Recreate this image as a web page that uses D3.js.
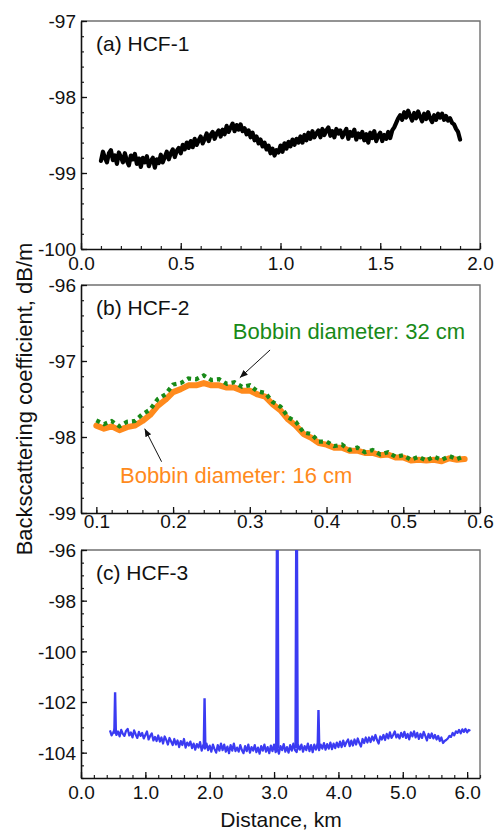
<!DOCTYPE html>
<html><head><meta charset="utf-8">
<script src="https://cdn.jsdelivr.net/npm/d3@7"></script>
<style>
body{margin:0;background:#fff;}
svg{display:block;font-family:"Liberation Sans",Arial,sans-serif;}
</style></head>
<body><svg id="c" width="497" height="830"></svg>
<script>
// ---------------- DATA ----------------
// Panel (a) HCF-1: distance 0.10..1.90 km, step 0.01
const distA = d3.range(0, 181).map(i => +(0.10 + i * 0.01).toFixed(2));
const valA = [
-98.84,-98.72,-98.80,-98.86,-98.74,-98.70,-98.83,-98.77,-98.88,-98.73,
-98.79,-98.86,-98.74,-98.84,-98.90,-98.77,-98.82,-98.75,-98.88,-98.81,
-98.92,-98.80,-98.86,-98.78,-98.91,-98.84,-98.80,-98.93,-98.82,-98.87,
-98.76,-98.86,-98.79,-98.72,-98.82,-98.74,-98.69,-98.79,-98.71,-98.67,
-98.74,-98.63,-98.69,-98.60,-98.67,-98.58,-98.66,-98.55,-98.63,-98.57,
-98.52,-98.61,-98.55,-98.48,-98.58,-98.50,-98.46,-98.55,-98.48,-98.44,
-98.52,-98.43,-98.49,-98.38,-98.46,-98.40,-98.35,-98.45,-98.37,-98.43,
-98.36,-98.45,-98.41,-98.49,-98.44,-98.53,-98.47,-98.57,-98.52,-98.61,
-98.56,-98.65,-98.60,-98.69,-98.64,-98.74,-98.68,-98.77,-98.70,-98.73,
-98.64,-98.72,-98.61,-98.68,-98.59,-98.65,-98.56,-98.63,-98.55,-98.60,
-98.52,-98.60,-98.50,-98.57,-98.47,-98.55,-98.45,-98.53,-98.48,-98.44,
-98.53,-98.42,-98.50,-98.44,-98.40,-98.51,-98.45,-98.53,-98.42,-98.48,
-98.44,-98.53,-98.47,-98.42,-98.55,-98.46,-98.51,-98.43,-98.56,-98.48,
-98.53,-98.46,-98.57,-98.49,-98.60,-98.47,-98.54,-98.45,-98.58,-98.51,
-98.47,-98.58,-98.50,-98.55,-98.46,-98.54,-98.44,-98.40,-98.34,-98.28,
-98.24,-98.30,-98.20,-98.27,-98.18,-98.25,-98.31,-98.21,-98.28,-98.19,
-98.26,-98.32,-98.22,-98.29,-98.20,-98.28,-98.33,-98.24,-98.30,-98.22,
-98.27,-98.22,-98.30,-98.25,-98.31,-98.28,-98.34,-98.36,-98.42,-98.46,
-98.56];

// Panel (b) HCF-2: distance 0.10..0.58 km, step 0.01
const distB = d3.range(0, 49).map(i => +(0.10 + i * 0.01).toFixed(2));
const valB16 = [
-97.85,-97.89,-97.86,-97.91,-97.87,-97.85,-97.79,-97.71,-97.59,-97.51,
-97.41,-97.37,-97.32,-97.32,-97.29,-97.32,-97.32,-97.35,-97.35,-97.39,
-97.39,-97.44,-97.47,-97.57,-97.65,-97.77,-97.85,-97.96,-98.01,-98.08,
-98.10,-98.14,-98.14,-98.18,-98.18,-98.21,-98.21,-98.24,-98.23,-98.27,
-98.27,-98.31,-98.30,-98.31,-98.30,-98.32,-98.28,-98.30,-98.29];
const valB32 = [
-97.78,-97.83,-97.79,-97.86,-97.80,-97.79,-97.70,-97.64,-97.50,-97.44,
-97.31,-97.29,-97.23,-97.24,-97.19,-97.25,-97.24,-97.30,-97.28,-97.34,
-97.32,-97.40,-97.42,-97.54,-97.60,-97.74,-97.80,-97.94,-97.96,-98.06,
-98.06,-98.12,-98.10,-98.17,-98.14,-98.20,-98.17,-98.23,-98.20,-98.26,
-98.24,-98.30,-98.26,-98.31,-98.26,-98.30,-98.25,-98.29,-98.25];

// Panel (c) HCF-3: distance 0.45..6.05 km, step 0.025
const distC = d3.range(0, 225).map(i => +(0.45 + i * 0.025).toFixed(3));
const valC = [
-103.12,-103.32,-103.20,-103.06,-103.30,-103.16,-103.36,-103.10,-103.26,-103.34,
-103.14,-103.06,-103.32,-103.20,-103.40,-103.12,-103.28,-103.42,-103.18,-103.34,
-103.22,-103.44,-103.30,-103.16,-103.48,-103.34,-103.24,-103.52,-103.38,-103.54,
-103.32,-103.56,-103.40,-103.64,-103.36,-103.50,-103.68,-103.42,-103.56,-103.70,
-103.46,-103.68,-103.52,-103.78,-103.54,-103.70,-103.46,-103.80,-103.60,-103.72,
-103.56,-103.82,-103.64,-103.88,-103.66,-103.80,-103.58,-103.92,-103.70,-103.84,
-103.64,-103.90,-103.72,-103.96,-103.68,-103.86,-104.00,-103.70,-103.92,-103.64,
-103.90,-103.68,-103.96,-103.76,-104.02,-103.70,-103.92,-103.64,-103.94,-103.80,
-103.96,-103.70,-103.90,-104.02,-103.74,-103.94,-103.68,-104.00,-103.78,-103.92,
-103.70,-103.98,-103.80,-104.04,-103.74,-103.92,-103.68,-103.96,-103.78,-104.02,
-103.72,-103.94,-103.68,-103.98,-103.80,-104.04,-103.74,-103.90,-103.66,-103.96,
-103.78,-104.00,-103.70,-103.92,-103.64,-103.90,-103.98,-103.70,-103.88,-103.68,
-103.96,-103.74,-103.90,-103.64,-103.94,-103.70,-103.98,-103.68,-103.88,-103.66,
-103.90,-103.68,-103.84,-103.62,-103.88,-103.66,-103.84,-103.60,-103.86,-103.64,
-103.82,-103.60,-103.78,-103.56,-103.78,-103.52,-103.74,-103.58,-103.48,-103.74,
-103.52,-103.72,-103.48,-103.68,-103.44,-103.62,-103.76,-103.46,-103.62,-103.40,
-103.60,-103.40,-103.58,-103.36,-103.52,-103.30,-103.50,-103.64,-103.36,-103.48,
-103.30,-103.50,-103.26,-103.44,-103.20,-103.42,-103.30,-103.16,-103.40,-103.28,
-103.44,-103.22,-103.38,-103.18,-103.42,-103.26,-103.48,-103.20,-103.36,-103.16,
-103.40,-103.22,-103.46,-103.26,-103.42,-103.18,-103.34,-103.52,-103.26,-103.42,
-103.24,-103.44,-103.30,-103.48,-103.34,-103.54,-103.40,-103.62,-103.54,-103.50,
-103.44,-103.34,-103.38,-103.22,-103.32,-103.16,-103.22,-103.10,-103.24,-103.08,
-103.18,-103.06,-103.20,-103.10,-103.14];
const spikeDist = [0.53, 1.92, 3.05, 3.35, 3.69];
const spikeBase = [-103.25, -103.80, -103.84, -103.82, -103.78];
const spikeTop  = [-101.62, -101.85, -95.0, -95.0, -102.32];

// Tick labels
const ticksAx = [0.0, 0.5, 1.0, 1.5, 2.0];
const ticksAy = [-97, -98, -99, -100];
const ticksBx = [0.1, 0.2, 0.3, 0.4, 0.5, 0.6];
const ticksBy = [-96, -97, -98, -99];
const ticksCx = [0, 1, 2, 3, 4, 5, 6];
const ticksCy = [-96, -98, -100, -102, -104];

const panelLabels = ["(a) HCF-1", "(b) HCF-2", "(c) HCF-3"];
const yTitle = "Backscattering coefficient, dB/m";
const xTitle = "Distance, km";
const annText = ["Bobbin diameter: 32 cm", "Bobbin diameter: 16 cm"];

// ---------------- DRAW ----------------
const svg = d3.select("#c");
const L = 81, R = 480;
const colors = {a: "#000000", b16: "#ff8a1c", b32: "#188a18", c: "#3b3bf2"};

function panel(opts) {
  const g = svg.append("g");
  const x = d3.scaleLinear().domain(opts.xd).range([L, R]);
  const y = d3.scaleLinear().domain(opts.yd).range([opts.bottom, opts.top]);
  const id = "clip" + opts.key;
  svg.append("defs").append("clipPath").attr("id", id)
    .append("rect").attr("x", L).attr("y", opts.top).attr("width", R - L).attr("height", opts.bottom - opts.top);
  g.append("path").attr("d", `M${L},${opts.top}H${R}V${opts.bottom}`)
    .attr("fill", "none").attr("stroke", "#707070").attr("stroke-width", 1.4);
  g.append("g").attr("transform", `translate(0,${opts.bottom})`)
    .call(d3.axisBottom(x).tickValues(opts.minX).tickSize(-3).tickFormat(""))
    .call(s => { s.select(".domain").remove(); s.selectAll("line").attr("stroke", "#222").attr("stroke-width", 1.2); });
  g.append("g").attr("transform", `translate(${L},0)`)
    .call(d3.axisLeft(y).tickValues(opts.minY).tickSize(-3).tickFormat(""))
    .call(s => { s.select(".domain").remove(); s.selectAll("line").attr("stroke", "#222").attr("stroke-width", 1.2); });
  const ax = g.append("g").attr("transform", `translate(0,${opts.bottom})`)
    .call(d3.axisBottom(x).tickValues(opts.tx).tickSizeInner(-6).tickSizeOuter(0).tickPadding(opts.xpad).tickFormat(d3.format(".1f")));
  const ay = g.append("g").attr("transform", `translate(${L},0)`)
    .call(d3.axisLeft(y).tickValues(opts.ty).tickSizeInner(-6).tickSizeOuter(0).tickPadding(5).tickFormat(d => (d < 0 ? "-" : "") + Math.abs(d)));
  [ax, ay].forEach(a => {
    a.select(".domain").attr("stroke", "#111").attr("stroke-width", 1.6);
    a.selectAll("line").attr("stroke", "#111").attr("stroke-width", 1.3);
    a.selectAll("text").attr("font-size", 19).attr("fill", "#111").attr("font-family", '"Liberation Sans", Arial, sans-serif');
  });
  ay.selectAll("text").attr("dy", "0.36em");
  g.append("text").attr("x", 96).attr("y", opts.top + 30).attr("font-size", 21).attr("fill", "#111").text(opts.label);
  const plot = g.append("g").attr("clip-path", `url(#${id})`);
  return {x, y, plot, g};
}

// Panel (a)
{
  const p = panel({key: "a", xd: [0, 2], yd: [-100, -97], top: 21, bottom: 249,
    tx: ticksAx, ty: ticksAy, xpad: 7.5,
    minX: d3.range(0, 21).map(i => i * 0.1), minY: d3.range(0, 16).map(i => -100 + i * 0.2),
    label: panelLabels[0]});
  const line = d3.line().x((d, i) => p.x(distA[i])).y(d => p.y(d));
  p.plot.append("path").attr("d", line(valA)).attr("fill", "none")
    .attr("stroke", colors.a).attr("stroke-width", 4.2).attr("stroke-linejoin", "round").attr("stroke-linecap", "round");
}

// Panel (b)
{
  const p = panel({key: "b", xd: [0.08, 0.6], yd: [-99, -96], top: 285, bottom: 513,
    tx: ticksBx, ty: ticksBy, xpad: 1.5,
    minX: d3.range(0, 26).map(i => 0.08 + i * 0.02), minY: d3.range(0, 16).map(i => -99 + i * 0.2),
    label: panelLabels[1]});
  const line = d3.line().x((d, i) => p.x(distB[i])).y(d => p.y(d));
  p.plot.append("path").attr("d", line(valB16)).attr("fill", "none")
    .attr("stroke", colors.b16).attr("stroke-width", 6).attr("stroke-linejoin", "round").attr("stroke-linecap", "round");
  p.plot.append("path").attr("d", line(valB32)).attr("fill", "none")
    .attr("stroke", colors.b32).attr("stroke-width", 4.2).attr("stroke-dasharray", "4,4");
  const annArrow = [[[0.3264, -96.855], [0.287, -97.22]], [[0.185, -98.325], [0.163, -97.89]]];
  const annPos = [[0.2778, -96.71], [0.1308, -98.605]];
  const annCol = [colors.b32, colors.b16];
  svg.append("defs").append("marker").attr("id", "ah").attr("viewBox", "0 0 10 10")
    .attr("refX", 10).attr("refY", 5).attr("markerWidth", 8).attr("markerHeight", 8)
    .attr("markerUnits", "userSpaceOnUse").attr("orient", "auto")
    .append("path").attr("d", "M0,1L10,5L0,9z").attr("fill", "#111");
  annArrow.forEach(a => {
    p.g.append("line").attr("x1", p.x(a[0][0])).attr("y1", p.y(a[0][1]))
      .attr("x2", p.x(a[1][0])).attr("y2", p.y(a[1][1]))
      .attr("stroke", "#111").attr("stroke-width", 1).attr("marker-end", "url(#ah)");
  });
  annPos.forEach((a, i) => {
    p.g.append("text").attr("x", p.x(a[0])).attr("y", p.y(a[1])).attr("font-size", 22)
      .attr("fill", annCol[i]).text(annText[i]);
  });
}

// Panel (c)
{
  const p = panel({key: "c", xd: [0, 6.2], yd: [-105, -96], top: 550, bottom: 778,
    tx: ticksCx, ty: ticksCy, xpad: 7.5,
    minX: d3.range(0, 32).map(i => i * 0.2), minY: d3.range(0, 19).map(i => -105 + i * 0.5),
    label: panelLabels[2]});
  const line = d3.line().x((d, i) => p.x(distC[i])).y(d => p.y(d));
  p.plot.append("path").attr("d", line(valC)).attr("fill", "none")
    .attr("stroke", colors.c).attr("stroke-width", 2.2).attr("stroke-linejoin", "round");
  const sl = d3.line().x(d => p.x(d[0])).y(d => p.y(d[1]));
  spikeDist.forEach((s, i) => {
    p.plot.append("path").attr("d", sl([[s - 0.012, spikeBase[i]], [s, spikeTop[i]], [s + 0.012, spikeBase[i]]]))
      .attr("fill", "none").attr("stroke", colors.c).attr("stroke-width", i === 2 || i === 3 ? 3 : 2.4);
  });
}

svg.append("text").attr("transform", "translate(32,399) rotate(-90)").attr("text-anchor", "middle")
  .attr("font-size", 22).attr("fill", "#111").text(yTitle);
svg.append("text").attr("x", 281).attr("y", 827).attr("text-anchor", "middle")
  .attr("font-size", 21).attr("fill", "#111").text(xTitle);
</script></body></html>
